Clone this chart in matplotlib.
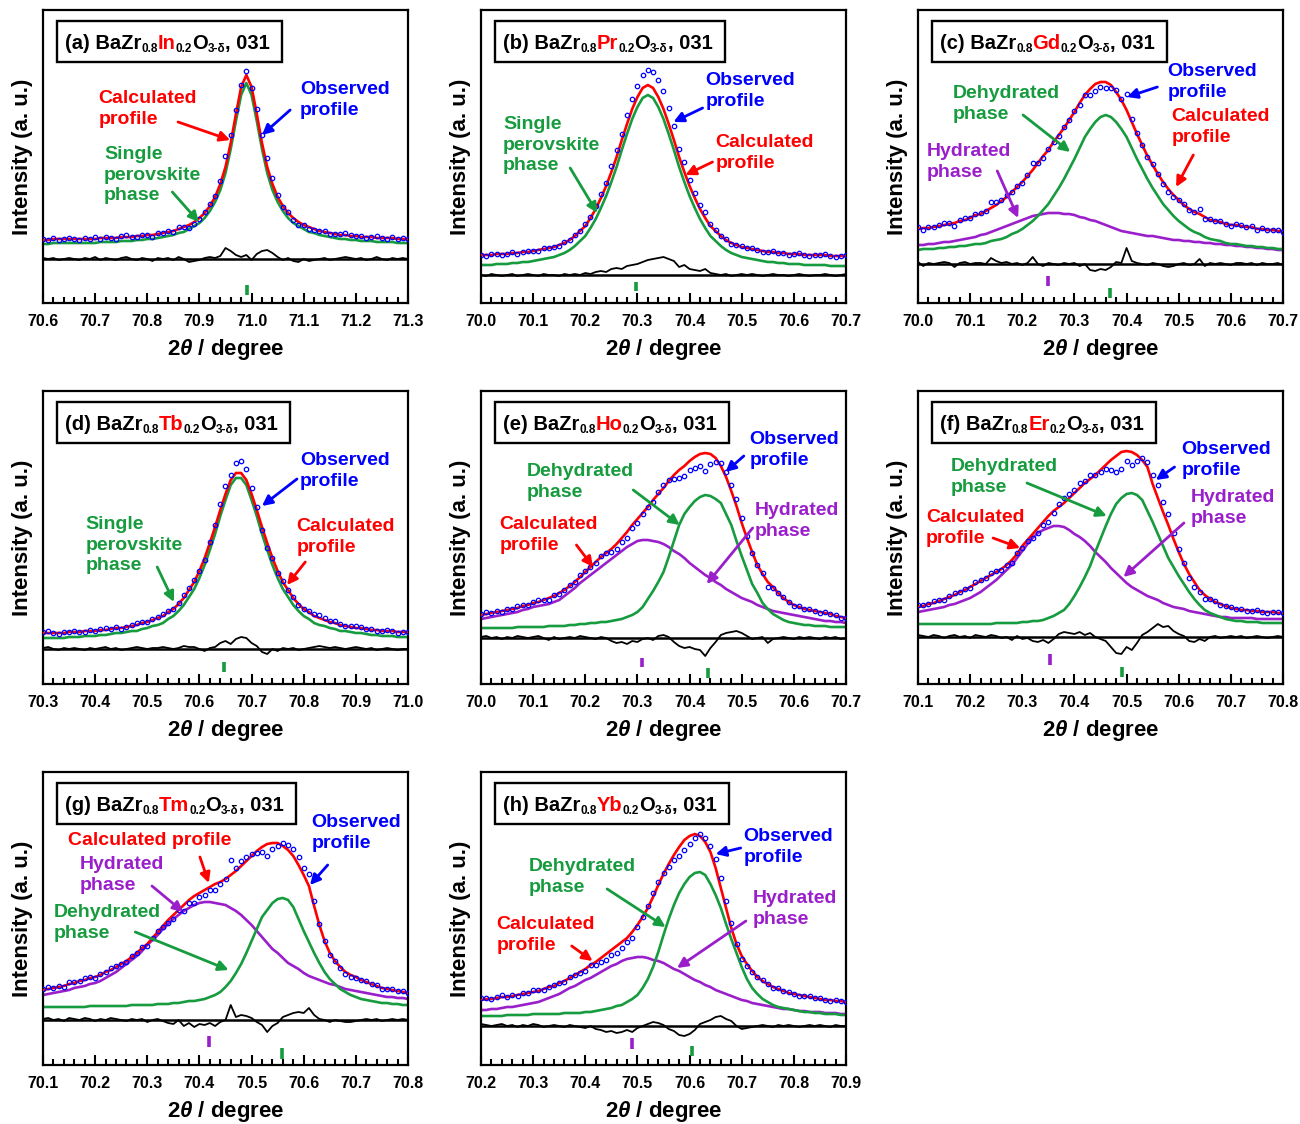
import numpy as np
import matplotlib
matplotlib.use("Agg")
import matplotlib.pyplot as plt
from matplotlib.ticker import MultipleLocator, FormatStrFormatter
from matplotlib.patches import Rectangle

plt.rcParams.update({
    "font.family": ["Liberation Sans", "DejaVu Sans"],
    "font.weight": "bold",
    "mathtext.fontset": "custom",
    "mathtext.rm": "Liberation Sans:bold",
    "mathtext.bf": "Liberation Sans:bold",
    "mathtext.it": "Liberation Sans:italic:bold",
    "mathtext.sf": "Liberation Sans:bold",
    "axes.linewidth": 1.6,
})

RED = "#ff0000"
GREEN = "#169b3e"
PURPLE = "#9a1fcb"
BLUE = "#0000ff"

STEP = 0.01  # 2theta step (degree)

# ---------------- (a) BaZr0.8In0.2O3-d ----------------
a_start = 70.60
a_calc = [63,63,64,64,64,64,64,64,64,64, 64,65,65,65,65,66,66,66,67,67, 68,68,69,70,71,72,74,76,78,81,
          85,90,97,106,119,136,160,189,216,228, 216,189,160,136,119,106,97,90,85,81, 78,76,74,72,71,70,69,68,68,67,
          67,66,66,66,65,65,65,65,64,64, 64]
a_obs = [64,63,65,63,64,65,64,63,65,64, 66,64,66,65,64,67,68,66,66,68, 68,66,70,70,72,71,76,76,75,79,
         84,91,99,107,122,147,168,193,218,232, 215,194,168,145,125,108,96,91,83,78, 78,74,73,72,72,69,69,69,70,68,
         67,67,65,66,67,65,64,66,64,65, 64]
a_single = [59,59,60,60,60,60,60,60,60,60, 60,61,61,61,61,62,62,62,63,63, 64,64,65,66,67,68,70,71,74,77,
            80,85,92,101,113,130,154,182,208,220, 208,182,154,130,113,101,92,85,80,77, 74,71,70,68,67,66,65,64,64,63,
            63,62,62,62,61,61,61,61,60,60, 60]
a_bragg = [70.992]

# ---------------- (b) BaZr0.8Pr0.2O3-d ----------------
b_start = 70.00
b_calc = [48,48,48,49,49,49,50,50,51,51, 52,53,54,55,56,58,60,63,67,72, 77,85,94,105,117,131,146,163,179,194,
          206,215,218,215,206,194,179,163,146,131, 117,105,94,85,77,72,67,63,60,58, 56,55,54,53,52,51,51,50,50,49,
          49,49,48,48,48,48,48,47,47,47, 47]
b_obs = [48,47,49,49,48,49,51,49,51,52, 52,52,55,55,56,57,61,63,68,72, 79,86,97,109,120,137,153,169,188,204,
         217,228,233,231,223,212,195,177,154,141, 123,110,98,91,79,73,67,64,59,58, 57,55,55,53,51,51,52,50,50,48,
         49,50,48,47,48,48,49,47,46,47, 48]
b_single = [38,38,38,39,39,39,40,40,41,41, 42,43,44,45,46,48,50,53,57,62, 67,75,84,95,107,121,136,153,169,184,
            196,205,208,205,196,184,169,153,136,121, 107,95,84,75,67,62,57,53,50,48, 46,45,44,43,42,41,41,40,40,39,
            39,39,38,38,38,38,38,37,37,37, 37]
b_bragg = [70.298]

# ---------------- (c) BaZr0.8Gd0.2O3-d ----------------
c_start = 70.00
c_calc = [74,75,75,76,77,78,79,80,82,83, 85,88,89,92,95,98,102,106,111,116, 121,127,133,140,147,153,161,168,175,183,
          191,200,208,214,219,221,221,218,211,203, 193,181,169,158,147,138,129,121,114,108, 103,98,94,91,89,86,83,82,81,79,
          78,78,77,76,76,74,74,73,73,72, 72]
c_obs = [76,73,76,76,78,80,80,77,83,85, 85,89,90,92,101,101,103,108,111,117, 120,128,140,140,145,154,161,167,176,183,
         192,198,208,208,212,216,215,215,213,204, 209,184,170,158,146,139,129,119,111,106, 103,99,93,91,94,84,84,82,82,79,
         77,79,78,76,77,73,75,73,73,73, 71]
c_dehyd = [53,54,54,54,55,55,56,56,57,57, 58,59,59,60,62,63,64,66,69,71, 74,78,82,87,93,99,107,115,124,134,
           144,155,166,174,181,186,188,186,181,174, 166,155,144,134,124,115,107,99,93,87, 82,78,74,71,69,66,64,63,62,60,
           59,59,58,57,57,56,56,55,55,54, 54]
c_hyd = [58,58,59,59,60,61,61,62,63,64, 65,66,68,69,71,73,75,77,79,81, 83,85,87,88,89,90,90,90,89,89,
         88,86,85,83,82,80,78,76,74,72, 71,70,69,68,67,67,66,65,64,63, 63,62,62,61,61,60,60,59,59,58,
         58,57,57,56,56,55,55,54,54,53, 53]
c_bragg_hyd = [70.249]
c_bragg_dehyd = [70.368]

# ---------------- (d) BaZr0.8Tb0.2O3-d ----------------
d_start = 70.30
d_calc = [51,51,51,51,51,52,52,52,53,53, 53,54,54,55,56,56,57,58,59,61, 62,64,66,68,72,75,80,86,94,102,
          113,126,141,157,174,190,204,211,211,204, 190,174,157,141,126,113,102,94,86,80, 75,72,68,66,64,62,61,59,58,57,
          56,56,55,54,54,53,53,53,52,52, 52]
d_obs = [52,53,51,50,52,52,53,52,52,54, 53,55,56,55,57,55,57,59,61,62, 62,65,67,70,73,75,81,89,96,104,
         113,124,142,159,180,198,209,221,223,215, 196,177,154,136,126,111,103,94,87,79, 75,73,70,69,66,63,63,60,58,58,
         58,57,55,55,53,53,54,53,51,52, 52]
d_single = [46,46,46,46,46,47,47,47,48,48, 48,49,49,50,51,51,52,53,53,55, 56,58,59,61,65,68,73,79,87,95,
            106,119,134,150,168,184,199,206,206,199, 184,168,150,134,119,106,95,87,79,73, 68,65,61,59,58,56,55,53,53,52,
            51,51,50,49,49,48,48,48,47,47, 47]
d_bragg = [70.648]

# ---------------- (e) BaZr0.8Ho0.2O3-d ----------------
e_start = 70.00
e_calc = [69,70,71,72,73,74,75,76,78,79, 81,82,84,86,88,91,94,98,102,107, 112,117,122,127,131,135,140,146,152,159,
          165,171,177,184,190,196,203,209,214,218, 223,227,230,231,230,226,218,207,193,178, 161,146,132,119,110,102,97,91,86,82,
          79,77,75,74,73,72,71,70,68,67, 66]
e_obs = [70,72,71,73,72,75,75,78,79,79, 82,84,84,84,89,90,94,99,102,109, 113,117,121,128,131,132,135,142,146,156,
         161,170,177,182,192,199,204,205,206,208, 214,216,218,213,220,222,221,212,199,185, 166,148,131,119,111,97,96,91,87,82,
         78,78,75,75,73,71,72,70,69,66, 66]
e_dehyd = [56,56,56,56,56,56,56,57,57,57, 57,57,57,58,58,58,58,59,59,60, 60,61,61,62,62,63,64,65,67,69,
           72,77,85,93,102,112,127,143,159,170, 177,183,187,189,188,185,181,170,159,143, 128,114,100,91,81,75,70,67,64,62,
           61,60,59,59,58,58,58,57,57,57, 57]
e_hyd = [65,66,67,68,69,70,71,72,74,75, 77,78,79,80,82,84,88,92,96,101, 105,109,113,117,121,125,129,133,137,140,
         143,144,144,143,142,140,137,133,130,126, 121,117,113,109,106,102,99,95,92,89, 86,84,82,79,77,75,73,72,71,70,
         69,68,67,66,65,64,63,63,62,62, 61]
e_bragg_hyd = [70.308]
e_bragg_dehyd = [70.436]

# ---------------- (f) BaZr0.8Er0.2O3-d ----------------
f_start = 70.10
f_calc = [77,78,80,81,83,85,87,89,92,94, 97,100,103,106,109,112,115,119,124,130, 138,144,150,156,162,168,173,177,181,186,
          191,196,201,205,209,214,219,224,228,232, 233,232,229,224,217,200,186,172,159,145, 132,120,110,102,94,89,85,82,80,78,
          76,75,74,74,73,73,72,72,72,71, 71]
f_obs = [79,79,80,83,84,84,88,91,92,95, 96,102,104,106,111,113,114,119,121,131, 136,143,146,151,159,162,171,180,186,190,
         194,201,203,209,209,212,215,214,212,215, 223,219,223,226,222,209,199,182,170,151, 135,121,106,97,92,85,85,83,79,78,
         77,75,75,73,73,74,72,71,72,72, 71]
f_dehyd = [60,60,60,60,60,60,60,60,60,60, 60,60,60,60,60,61,61,61,61,61, 62,62,63,63,64,66,68,71,74,80,
           88,97,107,118,132,145,158,170,180,186, 190,191,189,184,173,162,150,138,126,117, 108,100,92,85,79,74,71,69,67,65,
           64,63,63,62,62,62,61,61,61,61, 61]
f_hyd = [72,73,74,75,76,77,79,80,82,84, 86,89,92,96,100,104,109,114,119,126, 133,140,146,151,154,156,158,158,157,154,
         150,147,143,138,132,127,122,116,111,106, 101,97,94,91,88,86,84,81,79,77, 76,75,73,72,71,70,69,68,67,67,
         66,66,66,66,66,65,65,65,65,65, 65]
f_bragg_hyd = [70.353]
f_bragg_dehyd = [70.492]

# ---------------- (g) BaZr0.8Tm0.2O3-d ----------------
g_start = 70.10
g_calc = [75,76,77,78,79,81,82,84,85,87, 88,90,93,95,98,101,104,108,112,117, 121,127,133,139,145,150,155,160,165,169,
          172,175,178,181,183,186,190,194,199,204, 209,214,218,221,222,222,219,215,209,200, 190,179,159,140,124,112,104,98,93,90,
          88,85,83,81,79,77,76,75,74,73, 72]
g_obs = [76,78,77,79,78,83,83,84,87,88, 87,91,93,97,99,101,103,109,112,118, 119,127,134,138,142,146,155,154,162,162,
         168,170,175,175,181,186,205,197,204,208, 211,212,213,209,216,219,222,220,216,208, 197,191,164,141,124,110,104,97,91,88,
         87,85,84,81,80,76,76,76,74,74, 72]
g_dehyd = [58,58,58,58,58,58,58,58,58,59, 59,59,59,59,59,59,59,60,60,60, 60,60,61,61,61,62,62,63,64,64,
           65,66,68,70,73,78,84,92,101,112, 124,136,148,155,162,166,167,165,158,146, 134,123,112,102,93,86,81,76,73,70,
           68,66,65,64,63,62,62,61,61,60, 60]
g_hyd = [70,71,72,73,74,75,77,78,79,81, 82,84,87,90,93,97,101,105,109,114, 120,125,130,136,141,146,150,154,157,160,
         162,163,163,162,161,160,157,154,150,145, 140,134,128,122,116,112,107,102,99,96, 92,89,87,85,83,81,80,78,76,75,
         74,73,72,71,70,69,68,68,67,67, 66]
g_bragg_hyd = [70.419]
g_bragg_dehyd = [70.558]

# ---------------- (h) BaZr0.8Yb0.2O3-d ----------------
h_start = 70.20
h_calc = [65,66,66,67,68,68,69,70,71,72, 73,74,76,78,79,82,84,87,90,93, 96,100,103,107,111,115,119,123,127,133,
          140,148,157,168,180,191,201,210,218,225, 229,231,229,223,213,197,177,157,137,121, 109,101,94,88,84,81,78,76,74,72,
          71,70,69,68,67,66,65,65,64,64, 63]
h_obs = [67,67,66,68,70,68,70,69,72,72, 75,75,75,78,80,82,83,88,90,92, 94,100,100,103,105,110,112,117,123,127,
         138,148,159,172,183,192,198,205,209,215, 221,227,231,227,219,206,187,164,142,121, 106,99,93,88,85,81,77,77,74,73,
         71,69,69,69,67,67,65,64,65,64, 63]
h_dehyd = [49,49,49,49,49,50,50,50,50,50, 51,51,51,51,51,51,52,52,52,52, 53,53,54,55,56,57,59,60,63,66,
           70,77,86,98,113,130,146,160,172,181, 188,192,193,190,181,170,157,141,126,112, 98,86,77,71,66,63,60,58,57,56,
           55,54,53,53,52,52,51,51,51,50, 50]
h_hyd = [55,55,56,56,57,58,58,59,60,61, 62,63,65,67,69,71,74,77,79,82, 85,87,90,93,96,99,101,104,106,107,
         108,108,107,105,104,102,99,96,94,91, 88,85,83,80,78,75,73,71,69,67, 65,64,62,61,60,59,58,57,56,56,
         55,54,54,53,53,53,52,52,52,51, 51]
h_bragg_hyd = [70.49]
h_bragg_dehyd = [70.604]

# ---------------- figure layout ----------------
FIG_W, FIG_H = 1300, 1124
AX_W, AX_H = 365, 293
COL_LEFT = [43, 481, 918]
ROW_BOTTOM = [303, 684, 1065]

panels = [
    dict(letter="a", dop="In", start=a_start, calc=a_calc, obs=a_obs, zero=44,
         phases=[(a_single, GREEN)], bragg=[(a_bragg, GREEN, 8, 18)],
         notes=[("Calculated\nprofile", RED, (70.706, 209), (70.859, 181), (70.959, 163)),
                ("Observed\nprofile", BLUE, (71.093, 218), (71.074, 193), (71.020, 168)),
                ("Single\nperovskite\nphase", GREEN, (70.717, 153), (70.848, 111), (70.899, 81))]),
    dict(letter="b", dop="Pr", start=b_start, calc=b_calc, obs=b_obs, zero=28,
         phases=[(b_single, GREEN)], bragg=[(b_bragg, GREEN, 12, 21)],
         notes=[("Single\nperovskite\nphase", GREEN, (70.042, 183), (70.171, 135), (70.223, 90)),
                ("Observed\nprofile", BLUE, (70.431, 227), (70.425, 195), (70.369, 181)),
                ("Calculated\nprofile", RED, (70.45, 165), (70.444, 141), (70.392, 128))]),
    dict(letter="c", dop="Gd", start=c_start, calc=c_calc, obs=c_obs, zero=39,
         phases=[(c_hyd, PURPLE), (c_dehyd, GREEN)],
         bragg=[(c_bragg_hyd, PURPLE, 17, 27), (c_bragg_dehyd, GREEN, 5, 15)],
         notes=[("Dehydrated\nphase", GREEN, (70.067, 214), (70.2015, 188), (70.292, 151)),
                ("Hydrated\nphase", PURPLE, (70.017, 156), (70.152, 132), (70.192, 85)),
                ("Observed\nprofile", BLUE, (70.478, 236), (70.459, 216), (70.401, 206)),
                ("Calculated\nprofile", RED, (70.486, 191), (70.528, 148), (70.495, 116))]),
    dict(letter="d", dop="Tb", start=d_start, calc=d_calc, obs=d_obs, zero=35,
         phases=[(d_single, GREEN)], bragg=[(d_bragg, GREEN, 12, 22)],
         notes=[("Observed\nprofile", BLUE, (70.793, 228), (70.787, 205), (70.720, 178)),
                ("Calculated\nprofile", RED, (70.786, 162), (70.803, 122), (70.768, 99)),
                ("Single\nperovskite\nphase", GREEN, (70.381, 164), (70.519, 117), (70.551, 82))]),
    dict(letter="e", dop="Ho", start=e_start, calc=e_calc, obs=e_obs, zero=46,
         phases=[(e_hyd, PURPLE), (e_dehyd, GREEN)],
         bragg=[(e_bragg_hyd, PURPLE, 17, 26), (e_bragg_dehyd, GREEN, 6, 16)],
         notes=[("Observed\nprofile", BLUE, (70.515, 249), (70.504, 228), (70.469, 212)),
                ("Dehydrated\nphase", GREEN, (70.088, 217), (70.292, 194), (70.381, 159)),
                ("Hydrated\nphase", PURPLE, (70.525, 178), (70.521, 156), (70.433, 100)),
                ("Calculated\nprofile", RED, (70.035, 164), (70.183, 139), (70.215, 117))]),
    dict(letter="f", dop="Er", start=f_start, calc=f_calc, obs=f_obs, zero=47,
         phases=[(f_hyd, PURPLE), (f_dehyd, GREEN)],
         bragg=[(f_bragg_hyd, PURPLE, 19, 30), (f_bragg_dehyd, GREEN, 7, 17)],
         notes=[("Observed\nprofile", BLUE, (70.605, 239), (70.592, 217), (70.556, 204)),
                ("Dehydrated\nphase", GREEN, (70.163, 222), (70.309, 201), (70.462, 168)),
                ("Hydrated\nphase", PURPLE, (70.623, 191), (70.61, 161), (70.494, 107)),
                ("Calculated\nprofile", RED, (70.115, 171), (70.244, 146), (70.296, 136))]),
    dict(letter="g", dop="Tm", start=g_start, calc=g_calc, obs=g_obs, zero=45,
         phases=[(g_hyd, PURPLE), (g_dehyd, GREEN)],
         bragg=[(g_bragg_hyd, PURPLE, 18, 29), (g_bragg_dehyd, GREEN, 6, 17)],
         notes=[("Calculated profile", RED, (70.147, 229), (70.401, 208), (70.418, 182)),
                ("Observed\nprofile", BLUE, (70.615, 247), (70.646, 200), (70.612, 180)),
                ("Hydrated\nphase", PURPLE, (70.17, 205), (70.309, 179), (70.369, 153)),
                ("Dehydrated\nphase", GREEN, (70.12, 157), (70.277, 133), (70.456, 95))]),
    dict(letter="h", dop="Yb", start=h_start, calc=h_calc, obs=h_obs, zero=39,
         phases=[(h_hyd, PURPLE), (h_dehyd, GREEN)],
         bragg=[(h_bragg_hyd, PURPLE, 16, 27), (h_bragg_dehyd, GREEN, 9, 19)],
         notes=[("Observed\nprofile", BLUE, (70.703, 233), (70.698, 217), (70.65, 211)),
                ("Dehydrated\nphase", GREEN, (70.291, 203), (70.442, 176), (70.554, 138)),
                ("Hydrated\nphase", PURPLE, (70.721, 171), (70.708, 144), (70.576, 97)),
                ("Calculated\nprofile", RED, (70.23, 145), (70.374, 119), (70.414, 104))]),
]

fig = plt.figure(figsize=(FIG_W / 100, FIG_H / 100), dpi=100)
renderer = fig.canvas.get_renderer()

TITLE_FS = 14.5
SUB_FS = 8.5
SUB_DY = -2.5      # points
NOTE_FS = 14
PT2PX = fig.dpi / 72.0


def title_box(ax, letter, dopant):
    # text baseline start in axes fraction
    x0, y0 = 0.060, 0.867
    pieces = [(f"({letter}) BaZr", TITLE_FS, "black", 0),
              ("0.8", SUB_FS, "black", SUB_DY),
              (dopant, TITLE_FS, RED, 0),
              ("0.2", SUB_FS, "black", SUB_DY),
              ("O", TITLE_FS, "black", 0),
              ("3-\u03b4", SUB_FS, "black", SUB_DY),
              (", 031", TITLE_FS, "black", 0)]
    off = 0.0
    for text, fs, col, dy in pieces:
        t = ax.annotate(text, xy=(x0, y0), xycoords="axes fraction",
                        xytext=(off, dy), textcoords="offset points",
                        fontsize=fs, color=col, fontweight="bold",
                        ha="left", va="baseline", annotation_clip=False, zorder=6)
        off += t.get_window_extent(renderer).width / PT2PX
    width_px = off * PT2PX
    cap_px = TITLE_FS * 0.72 * PT2PX
    left = x0 - 8 / AX_W
    right = x0 + (width_px + 12) / AX_W
    bottom = y0 - 13 / AX_H
    top = y0 + (cap_px + 13) / AX_H
    ax.add_patch(Rectangle((left, bottom), right - left, top - bottom, transform=ax.transAxes,
                           facecolor="white", edgecolor="black", lw=1.7, zorder=5.5))


for idx, p in enumerate(panels):
    r, c = divmod(idx, 3)
    left = COL_LEFT[c]
    bottom = ROW_BOTTOM[r]
    ax = fig.add_axes([left / FIG_W, 1 - bottom / FIG_H, AX_W / FIG_W, AX_H / FIG_H])

    calc = np.array(p["calc"], dtype=float)
    obs = np.array(p["obs"], dtype=float)
    x = p["start"] + STEP * np.arange(len(calc))
    xmin, xmax = p["start"], p["start"] + 0.7

    for y, col in p["phases"]:
        ax.plot(x, y, color=col, lw=1.9, zorder=2)
    ax.plot(x, calc, color=RED, lw=1.9, zorder=3)
    ax.plot(x, obs, ls="none", marker="o", ms=3.2, mfc="none", mec=BLUE, mew=0.9, zorder=4)

    zero = p["zero"]
    ax.axhline(zero, color="black", lw=1.8, zorder=2)
    ax.plot(x, obs - calc + zero, color="black", lw=1.3, zorder=2)

    for pos, col, y0, y1 in p["bragg"]:
        ax.vlines(pos, y0, y1, color=col, lw=2.6)

    for text, col, txy, tail, tip in p["notes"]:
        ax.text(txy[0], txy[1] + 4, text, color=col, fontsize=NOTE_FS, fontweight="bold",
                ha="left", va="top", linespacing=1.28, zorder=5)
        ax.annotate("", xy=tip, xytext=tail,
                    arrowprops=dict(arrowstyle="-|>", color=col, lw=2.0,
                                    mutation_scale=15, shrinkA=0, shrinkB=0), zorder=5)

    title_box(ax, p["letter"], p["dop"])

    ax.set_xlim(xmin, xmax)
    ax.set_ylim(0, AX_H)
    ax.set_yticks([])
    ax.xaxis.set_major_locator(MultipleLocator(0.1))
    ax.xaxis.set_minor_locator(MultipleLocator(0.02))
    ax.xaxis.set_major_formatter(FormatStrFormatter("%.1f"))
    ax.tick_params(axis="x", which="both", direction="in", top=False, width=1.5,
                   labelsize=11.5, pad=8)
    ax.tick_params(axis="x", which="major", length=7)
    ax.tick_params(axis="x", which="minor", length=4)
    ax.set_xlabel(r"2$\mathit{\theta}$ / degree", fontsize=16, fontweight="bold", labelpad=6)
    ax.set_ylabel("Intensity (a. u.)", fontsize=16, fontweight="bold", labelpad=7)

fig.savefig("out.png", dpi=100)
